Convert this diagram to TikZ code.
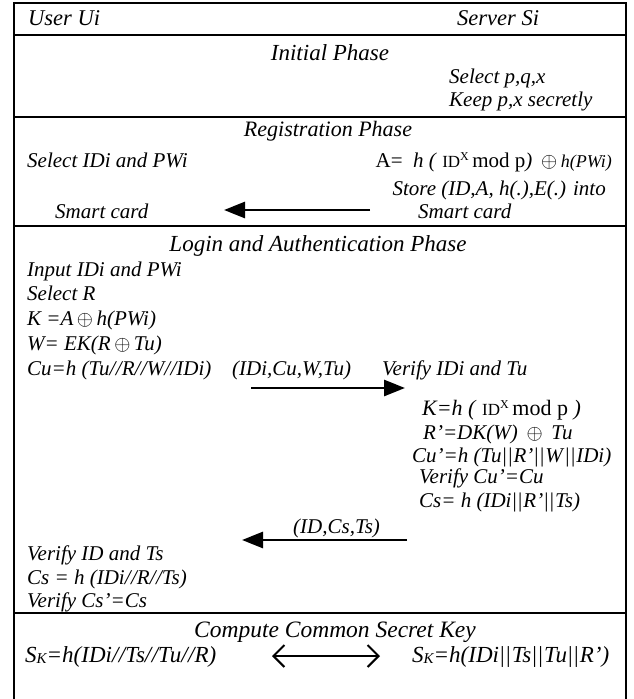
\documentclass[tikz,border=0pt]{standalone}
\usepackage{fontspec}
\setmainfont{Liberation Serif}
\usetikzlibrary{arrows.meta}
% upright "ID^X mod p" used inside the italic formulas
\newcommand\IDxmodp{\textup{{\fontsize{17}{17}\selectfont ID}\raisebox{7pt}{\fontsize{12}{12}\selectfont X}\,mod p}}
\newcommand\xor{\,$\oplus$\,}
\newcommand\cc{\textup{\kern1pt|\kern1.5pt|\kern1pt}}
\newcommand\slsep{/\kern0.5pt/}
\newcommand\SK{S\raisebox{-1pt}{\fontsize{15}{15}\selectfont K}}
\begin{document}
\begin{tikzpicture}[x=1pt,y=-1pt,
  txt/.style={anchor=base west,inner sep=0pt,font=\fontsize{21}{24}\selectfont\itshape},
  txtr/.style={txt,anchor=base east},
  ttl/.style={anchor=base,inner sep=0pt,font=\fontsize{#1}{26}\selectfont\itshape},
  hdr/.style={anchor=base west,inner sep=0pt,font=\fontsize{22.5}{26}\selectfont\itshape},
  frame/.style={line width=2.6pt},
  msg/.style={line width=2.8pt,-{Triangle[length=21pt,width=16pt]}},
  keyarrow/.style={line width=2pt,{Straight Barb[length=11pt,width=22pt]}-{Straight Barb[length=11pt,width=22pt]}}]
\useasboundingbox (0,0) rectangle (633,699);

% frame and phase separators
\draw[frame] (14,699) -- (14,3) -- (626,3) -- (626,699);
\foreach \yy in {35,117,226,613} \draw[frame] (14,\yy) -- (626,\yy);

% header
\node[hdr] (user) at (28,25) {User Ui};
\node[hdr] (server) at (457,25) {Server Si};

% initial phase
\node[ttl=23] (initial) at (330,60) {Initial Phase};
\node[txt] (selpqx) at (449,83) {Select p,q,x};
\node[txt] (keep) at (449,106) {Keep p,x secretly};

% registration phase
\node[ttl=22] (reg) at (328,136) {Registration Phase};
\node[txt] (selid) at (27,167) {Select IDi and PWi};
\node[txtr] (aeq) at (612,167) {\textup{A=}\ \ h ( \IDxmodp) \xor{\fontsize{18}{18}\selectfont h(PWi)}};
\node[txtr] (store) at (606,195) {Store (ID,A, h(.),E(.) into};
\node[txt] (cardu) at (55,218) {Smart card};
\node[txt] (cards) at (418,218) {Smart card};
\coordinate (regfrom) at (370,210);
\coordinate (regto) at (224,210);
\draw[msg] (regfrom) -- (regto);

% login and authentication phase
\node[ttl=23] (login) at (318,251) {Login and Authentication Phase};
\node[txt] (input) at (27,276) {Input IDi and PWi};
\node[txt] (selr) at (27,300) {Select R};
\node[txt] (kcalc) at (27,325) {K =A\xor h(PWi)};
\node[txt] (wcalc) at (27,350) {W= EK(R\xor Tu)};
\node[txt] (cucalc) at (27,375) {Cu=h (Tu\slsep R\slsep W\slsep IDi)};
\node[txt] (msg1) at (232,375) {(IDi,Cu,W,Tu)};
\node[txt] (verid) at (382,375) {Verify IDi and Tu};
\coordinate (m1from) at (251,388);
\coordinate (m1to) at (405,388);
\draw[msg] (m1from) -- (m1to);
\node[txt,font=\fontsize{22}{26}\selectfont\itshape] (ks) at (422,415) {K=h ( \IDxmodp\ )};
\node[txt] (rp) at (423,439) {R'=DK(W) \xor\ Tu};
\node[txt] (cup) at (412,462) {Cu'=h (Tu\cc R'\cc W\cc IDi)};
\node[txt] (vercu) at (419,483) {Verify Cu'=Cu};
\node[txt] (cs) at (419,507) {Cs= h (IDi\cc R'\cc Ts)};
\node[txt] (msg2) at (293,533) {(ID,Cs,Ts)};
\coordinate (m2from) at (407,540);
\coordinate (m2to) at (242,540);
\draw[msg] (m2from) -- (m2to);
\node[txt] (verts) at (27,560) {Verify ID and Ts};
\node[txt] (csu) at (27,584) {Cs = h (IDi\slsep R\slsep Ts)};
\node[txt] (vercs) at (27,607) {Verify Cs'=Cs};

% common secret key
\node[ttl=23.5] (common) at (335,637) {Compute Common Secret Key};
\node[txt,font=\fontsize{23}{26}\selectfont\itshape] (sku) at (25,662) {\SK=h(IDi\slsep Ts\slsep Tu\slsep R)};
\node[txt,font=\fontsize{23}{26}\selectfont\itshape] (sks) at (412,662) {\SK=h(IDi\cc Ts\cc Tu\cc R')};
\coordinate (kl) at (272,656);
\coordinate (kr) at (380,656);
\draw[keyarrow] (kl) -- (kr);
\end{tikzpicture}
\end{document}
